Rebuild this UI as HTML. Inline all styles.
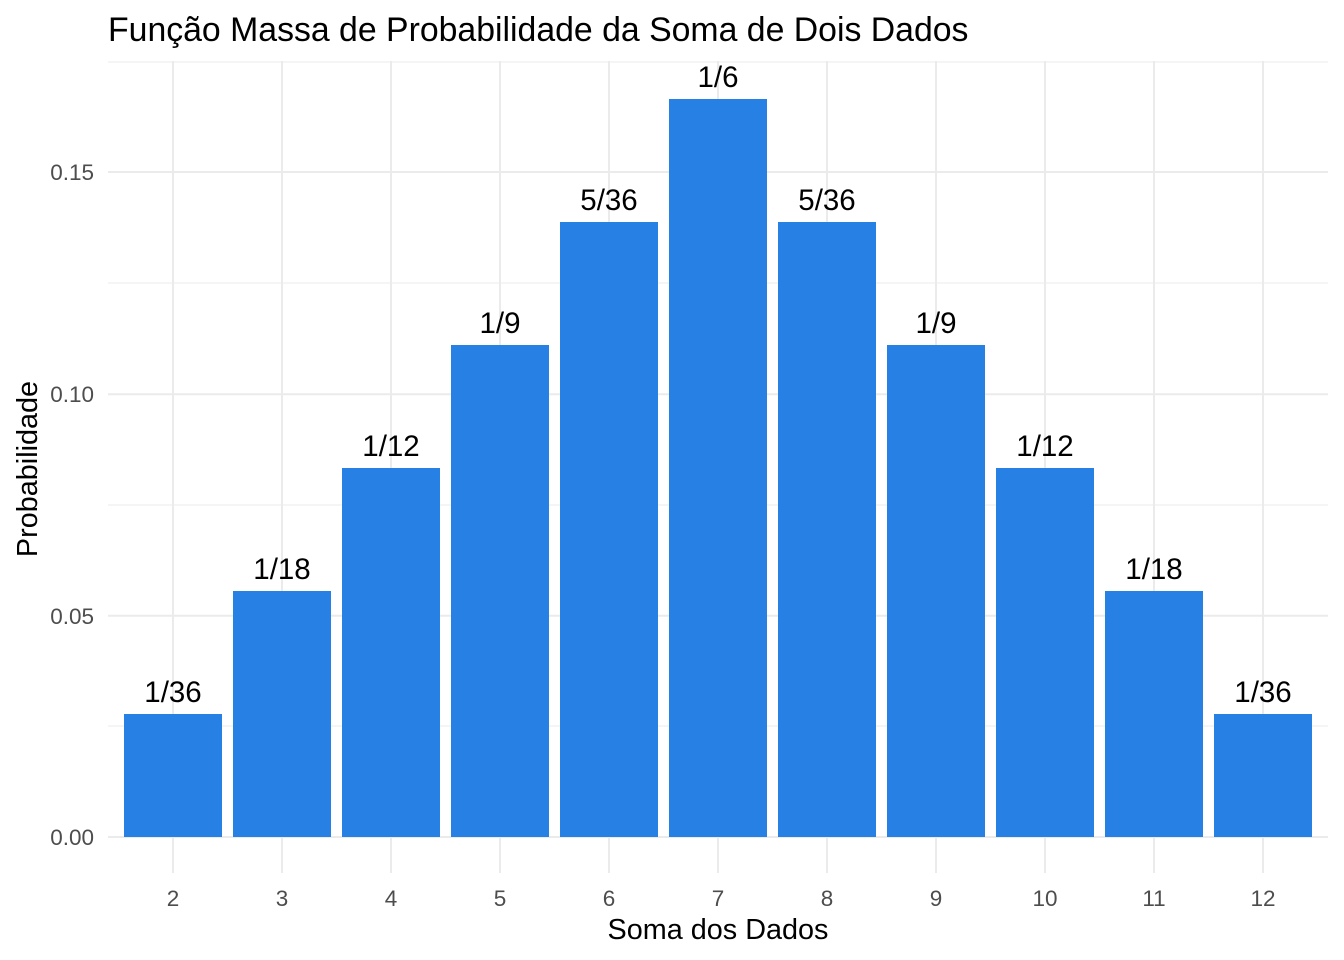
<!DOCTYPE html>
<html><head><meta charset="utf-8"><style>
html,body{margin:0;padding:0;background:#fff;}
svg{display:block;font-family:"Liberation Sans",Arial,sans-serif;}
</style></head><body>
<svg width="1344" height="960" viewBox="0 0 1344 960" xmlns="http://www.w3.org/2000/svg">
<rect width="1344" height="960" fill="#fff"/>
<g stroke="#ebebeb" stroke-width="1">
<line x1="108" x2="1328" y1="726" y2="726"/>
<line x1="108" x2="1328" y1="505" y2="505"/>
<line x1="108" x2="1328" y1="283" y2="283"/>
<line x1="108" x2="1328" y1="62" y2="62"/>
</g>
<g stroke="#ebebeb" stroke-width="2">
<line x1="108" x2="1328" y1="837" y2="837"/>
<line x1="108" x2="1328" y1="615.7" y2="615.7"/>
<line x1="108" x2="1328" y1="394.3" y2="394.3"/>
<line x1="108" x2="1328" y1="172" y2="172"/>
<line x1="173" x2="173" y1="61" y2="873"/>
<line x1="282" x2="282" y1="61" y2="873"/>
<line x1="391" x2="391" y1="61" y2="873"/>
<line x1="500" x2="500" y1="61" y2="873"/>
<line x1="609" x2="609" y1="61" y2="873"/>
<line x1="718" x2="718" y1="61" y2="873"/>
<line x1="827" x2="827" y1="61" y2="873"/>
<line x1="936" x2="936" y1="61" y2="873"/>
<line x1="1045" x2="1045" y1="61" y2="873"/>
<line x1="1154" x2="1154" y1="61" y2="873"/>
<line x1="1263" x2="1263" y1="61" y2="873"/>
</g>
<g fill="#2780e3">
<rect x="124" y="714" width="98" height="123"/>
<rect x="233" y="591" width="98" height="246"/>
<rect x="342" y="468" width="98" height="369"/>
<rect x="451" y="345" width="98" height="492"/>
<rect x="560" y="222" width="98" height="615"/>
<rect x="669" y="99" width="98" height="738"/>
<rect x="778" y="222" width="98" height="615"/>
<rect x="887" y="345" width="98" height="492"/>
<rect x="996" y="468" width="98" height="369"/>
<rect x="1105" y="591" width="98" height="246"/>
<rect x="1214" y="714" width="98" height="123"/>
</g>
<g font-size="29.5" fill="#000" text-anchor="middle">
<text x="173" y="702">1/36</text>
<text x="282" y="579">1/18</text>
<text x="391" y="456">1/12</text>
<text x="500" y="333">1/9</text>
<text x="609" y="210">5/36</text>
<text x="718" y="87">1/6</text>
<text x="827" y="210">5/36</text>
<text x="936" y="333">1/9</text>
<text x="1045" y="456">1/12</text>
<text x="1154" y="579">1/18</text>
<text x="1263" y="702">1/36</text>
</g>
<g font-size="22.5" fill="#4d4d4d" text-anchor="middle">
<text x="173" y="906">2</text><text x="282" y="906">3</text><text x="391" y="906">4</text>
<text x="500" y="906">5</text><text x="609" y="906">6</text><text x="718" y="906">7</text>
<text x="827" y="906">8</text><text x="936" y="906">9</text><text x="1045" y="906">10</text>
<text x="1154" y="906">11</text><text x="1263" y="906">12</text>
</g>
<g font-size="22.5" fill="#4d4d4d" text-anchor="end">
<text x="94" y="845">0.00</text>
<text x="94" y="624">0.05</text>
<text x="94" y="402">0.10</text>
<text x="94" y="180">0.15</text>
</g>
<text x="718" y="939" font-size="28.8" text-anchor="middle" fill="#000">Soma dos Dados</text>
<text transform="translate(37,469) rotate(-90)" font-size="28.8" text-anchor="middle" fill="#000">Probabilidade</text>
<text x="108" y="41" font-size="33.8" fill="#000">Função Massa de Probabilidade da Soma de Dois Dados</text>
</svg>
</body></html>
